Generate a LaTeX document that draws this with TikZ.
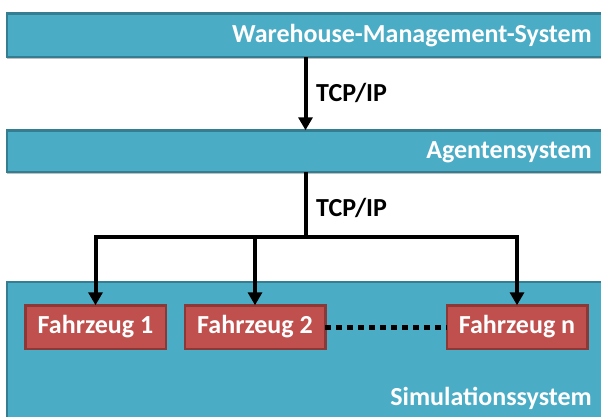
\documentclass[tikz,border=0pt]{standalone}
\usepackage{fontspec}
\setmainfont{Carlito}
\usetikzlibrary{arrows.meta,shadows}
\definecolor{barfill}{HTML}{4BACC6}
\definecolor{barline}{HTML}{357D91}
\definecolor{carfill}{HTML}{C0504D}
\definecolor{carline}{HTML}{8C3836}
\tikzset{
  bar/.style={draw=barline,fill=barfill,line width=2.5pt,inner sep=0pt,outer sep=0pt,minimum width=613pt,
    drop shadow={shadow xshift=0pt,shadow yshift=-2pt,fill=black,opacity=0.25}},
  bartext/.style={anchor=east,text=white,font=\bfseries\fontsize{26}{30}\selectfont,inner sep=0pt},
  car/.style={draw=carline,fill=carfill,line width=2.5pt,inner sep=0pt,outer sep=0pt,minimum width=140.5pt,minimum height=43.5pt,
    text=white,font=\bfseries\fontsize{26}{30}\selectfont},
  conn/.style={line width=4pt,draw=black},
  arr/.style={-{Triangle[width=14pt,length=13pt]}},
  proto/.style={anchor=west,font=\bfseries\fontsize{26}{30}\selectfont,inner sep=0pt},
  dotline/.style={line width=5pt,dash pattern=on 6pt off 5pt}
}
\begin{document}
\begin{tikzpicture}[x=1pt,y=-1pt]
\useasboundingbox (0,0) rectangle (601,416);
\clip (0,0) rectangle (601,416);
\node[bar,minimum height=43.5pt] (wms) at (313.5,35) {};
\node[bar,minimum height=41.5pt] (agent) at (313.5,151) {};
\node[bar,minimum height=147pt] (sim) at (313.5,355.5) {};
\node[bartext] (wmst) at (592,36) {Warehouse-Management-System};
\node[bartext] (agentt) at (592,152) {Agentensystem};
\node[bartext] (simt) at (592,398) {Simulationssystem};
\node[car] (f1) at (95.5,327) {Fahrzeug 1};
\node[car] (f2) at (255,327) {Fahrzeug 2};
\node[car] (fn) at (517,327) {Fahrzeug n};
\coordinate (c1) at (305.5,0);
\coordinate (bus) at (305.5,237);
\draw[conn,arr] (wms.south -| c1) -- (agent.north -| c1);
\node[proto] (p1) at (316,93) {TCP/IP};
\draw[conn] (agent.south -| bus) -- (bus);
\node[proto] (p2) at (316,208) {TCP/IP};
\draw[conn,arr] (bus) -| (f1.north);
\draw[conn,arr] (bus) -| (f2.north);
\draw[conn,arr] (bus) -| (fn.north);
\draw[dotline] (f2.east) -- (fn.west);
\end{tikzpicture}
\end{document}
